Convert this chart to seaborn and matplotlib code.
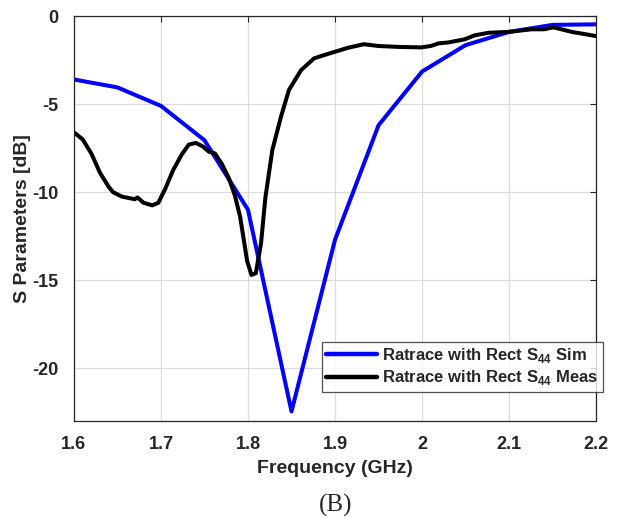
import numpy as np
import pandas as pd
import matplotlib
matplotlib.use("Agg")
import matplotlib.pyplot as plt
import seaborn as sns

# --- data ---
sim_freq = [1.60, 1.65, 1.70, 1.75, 1.80, 1.85, 1.90, 1.95, 2.00, 2.05, 2.10, 2.15, 2.20]
sim_s44 = [-3.6, -4.05, -5.1, -7.05, -11.0, -22.45, -12.7, -6.2, -3.15, -1.65, -0.9, -0.5, -0.47]

meas_freq = [1.600, 1.610, 1.620, 1.630, 1.640, 1.645, 1.655, 1.665, 1.670, 1.673,
             1.680, 1.690, 1.697, 1.705, 1.714, 1.724, 1.732, 1.740, 1.748, 1.755,
             1.762, 1.770, 1.778, 1.785, 1.791, 1.799, 1.804, 1.809, 1.815, 1.820,
             1.828, 1.838, 1.847, 1.861, 1.876, 1.895, 1.915, 1.933, 1.950, 1.972,
             1.999, 2.010, 2.019, 2.030, 2.049, 2.060, 2.076, 2.099, 2.126, 2.140,
             2.151, 2.160, 2.172, 2.190, 2.200]
meas_s44 = [-6.6, -7.0, -7.8, -8.9, -9.7, -10.0, -10.25, -10.35, -10.4, -10.3,
            -10.6, -10.75, -10.6, -9.8, -8.75, -7.85, -7.3, -7.2, -7.4, -7.7,
            -7.8, -8.4, -9.2, -10.2, -11.4, -13.9, -14.7, -14.6, -12.9, -10.3,
            -7.6, -5.7, -4.2, -3.07, -2.4, -2.1, -1.8, -1.6, -1.7, -1.75,
            -1.78, -1.7, -1.55, -1.5, -1.32, -1.1, -0.95, -0.9, -0.75, -0.75,
            -0.64, -0.75, -0.9, -1.05, -1.14]

x_ticks = [1.6, 1.7, 1.8, 1.9, 2.0, 2.1, 2.2]
x_tick_labels = ["1.6", "1.7", "1.8", "1.9", "2", "2.1", "2.2"]
y_ticks = [0, -5, -10, -15, -20]
y_tick_labels = ["0", "-5", "-10", "-15", "-20"]

sim_label = r"Ratrace with Rect S$_{\mathbf{44}}$ Sim"
meas_label = r"Ratrace with Rect S$_{\mathbf{44}}$ Meas"

df = pd.concat([
    pd.DataFrame({"freq": sim_freq, "s": sim_s44, "series": sim_label}),
    pd.DataFrame({"freq": meas_freq, "s": meas_s44, "series": meas_label}),
], ignore_index=True)

sns.set_style("white")
plt.rcParams["font.family"] = ["Liberation Sans", "DejaVu Sans"]
plt.rcParams["mathtext.fontset"] = "custom"
plt.rcParams["mathtext.bf"] = "Liberation Sans:bold"
plt.rcParams["mathtext.rm"] = "Liberation Sans"

fig = plt.figure(figsize=(6.21, 5.18), dpi=100)
ax = fig.add_axes([0.119, 0.187, 0.841, 0.782])

sns.lineplot(data=df, x="freq", y="s", hue="series", sort=False,
             palette={sim_label: "#0000FF", meas_label: "#000000"},
             linewidth=2.9, ax=ax, estimator=None)

ax.set_xlim(1.6, 2.2)
ax.set_ylim(-23, 0)
ax.set_xticks(x_ticks)
ax.set_xticklabels(x_tick_labels)
ax.set_yticks(y_ticks)
ax.set_yticklabels(y_tick_labels)
ax.grid(True, color="#dcdcdc", linewidth=0.9)
ax.set_axisbelow(True)
ax.tick_params(direction="in", top=True, right=True, length=4, width=0.8,
               color="#262626", labelsize=13, labelcolor="#262626", pad=11)
for lab in ax.get_xticklabels() + ax.get_yticklabels():
    lab.set_fontweight("bold")
for sp in ax.spines.values():
    sp.set_color("#262626")
    sp.set_linewidth(0.9)

ax.set_xlabel("Frequency (GHz)", fontsize=14, fontweight="bold", labelpad=5)
ax.set_ylabel("S Parameters [dB]", fontsize=14, fontweight="bold", labelpad=1)

leg = ax.legend(loc="lower right", bbox_to_anchor=(1.013, 0.073),
                prop={"weight": "bold", "size": 12}, frameon=True, fancybox=False,
                handlelength=3.1, borderpad=0.25, labelspacing=0.2,
                handletextpad=0.3, borderaxespad=0)
leg.get_frame().set_edgecolor("#262626")
leg.get_frame().set_linewidth(0.9)
for line in leg.get_lines():
    line.set_linewidth(3.2)

fig.text(0.541, 0.012, "(B)", fontsize=18, family=["Liberation Serif", "DejaVu Serif"],
         ha="center", va="baseline")

fig.savefig("out.png", dpi=100)
